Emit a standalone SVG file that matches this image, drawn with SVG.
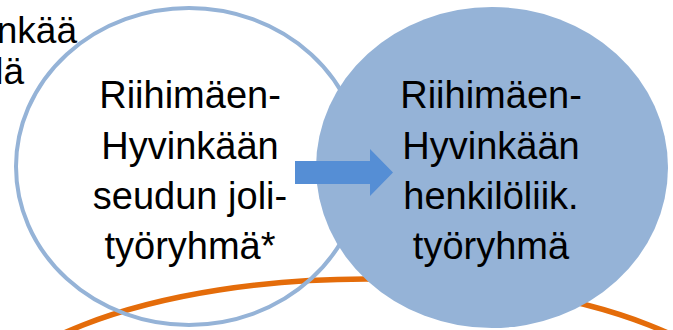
<svg xmlns="http://www.w3.org/2000/svg" width="673" height="330" viewBox="0 0 673 330">
<style>
.t{font-family:"Liberation Sans",Arial,sans-serif;fill:#000;text-anchor:middle}
.big{font-size:38px}
.small{font-size:37px}
</style>
<rect width="673" height="330" fill="#fff"/>
<g id="outer-orange">
<ellipse cx="366" cy="436" rx="400" ry="157" fill="none" stroke="#E46C0A" stroke-width="5.5"/>
</g>
<g id="top-left-text">
<text class="t small" x="77" y="43" style="text-anchor:end">nkää</text>
<text class="t small" x="24" y="84" style="text-anchor:end">lä</text>
</g>
<g id="node-joli">
<ellipse cx="189" cy="166.5" rx="173" ry="158.5" fill="none" stroke="#95B3D7" stroke-width="4"/>
<text class="t big" x="190" y="108">Riihimäen-</text>
<text class="t big" x="190" y="159">Hyvinkään</text>
<text class="t big" x="190" y="209">seudun joli-</text>
<text class="t big" x="190" y="259">työryhmä*</text>
</g>
<g id="node-henkilo">
<ellipse cx="492" cy="167.5" rx="176" ry="160.5" fill="#95B3D7"/>
<text class="t big" x="491" y="108">Riihimäen-</text>
<text class="t big" x="491" y="159">Hyvinkään</text>
<text class="t big" x="491" y="209">henkilöliik.</text>
<text class="t big" x="491" y="259">työryhmä</text>
</g>
<g id="connectors">
<polygon points="295,161 370,161 370,149 393,172.5 370,196 370,184 295,184" fill="#558ED5"/>
</g>
</svg>
